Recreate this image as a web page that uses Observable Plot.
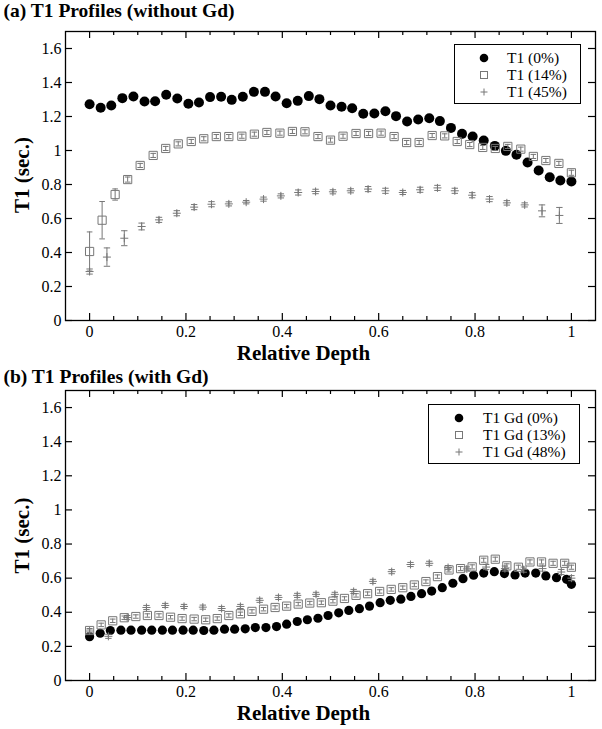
<!DOCTYPE html>
<html><head><meta charset="utf-8">
<script src="https://cdn.jsdelivr.net/npm/d3@7"></script>
<script src="https://cdn.jsdelivr.net/npm/@observablehq/plot@0.6"></script>
<style>
body{margin:0;background:#fff;}
#root{position:relative;width:602px;height:729px;font-family:"Liberation Serif","Times New Roman",serif;overflow:hidden;}
#root svg, #root svg text{font-family:"Liberation Serif","Times New Roman",serif !important;}
.panel{position:absolute;left:0;}
.legend{position:absolute;border:1.3px solid #000;background:#fff;box-sizing:border-box;}
.legend .row{position:absolute;left:0;height:14px;font-size:15.5px;line-height:14px;white-space:nowrap;color:#000;}
.legend svg{position:absolute;}
</style></head>
<body><div id="root"></div>
<script>
// ---------- Panel (a): without Gd ----------
const depthA0 = [0,0.023,0.045,0.068,0.091,0.114,0.136,0.159,0.182,0.205,0.227,0.25,0.273,0.295,0.318,0.341,0.364,0.386,0.409,0.432,0.455,0.477,0.5,0.523,0.545,0.568,0.591,0.614,0.636,0.659,0.682,0.705,0.727,0.75,0.773,0.795,0.818,0.841,0.864,0.886,0.909,0.932,0.955,0.977,1];
const t1A0 = [1.272,1.251,1.265,1.308,1.318,1.288,1.29,1.328,1.306,1.275,1.282,1.314,1.316,1.298,1.316,1.345,1.345,1.318,1.278,1.292,1.32,1.302,1.265,1.257,1.249,1.216,1.218,1.231,1.202,1.171,1.182,1.19,1.173,1.133,1.098,1.082,1.059,1.027,0.998,0.975,0.929,0.882,0.843,0.824,0.818];

const depthA14 = [0,0.026,0.053,0.079,0.105,0.132,0.158,0.184,0.211,0.237,0.263,0.289,0.316,0.342,0.368,0.395,0.421,0.447,0.474,0.5,0.526,0.553,0.579,0.605,0.632,0.658,0.684,0.711,0.737,0.763,0.789,0.816,0.842,0.868,0.895,0.921,0.947,0.974,1];
const t1A14 = [0.406,0.59,0.741,0.829,0.912,0.971,1.012,1.039,1.053,1.069,1.082,1.082,1.084,1.096,1.106,1.102,1.112,1.11,1.082,1.061,1.084,1.1,1.1,1.102,1.082,1.047,1.047,1.088,1.086,1.053,1.035,1.018,1.012,1.024,1.008,0.965,0.941,0.924,0.869];
const errA14 = [0.115,0.11,0.033,0.015,0.012,0.012,0.012,0.012,0.012,0.012,0.012,0.012,0.012,0.012,0.012,0.012,0.012,0.012,0.012,0.012,0.012,0.012,0.012,0.012,0.012,0.012,0.012,0.012,0.012,0.012,0.012,0.012,0.012,0.012,0.012,0.012,0.012,0.012,0.015];

const depthA45 = [0,0.036,0.072,0.108,0.144,0.181,0.217,0.253,0.289,0.325,0.361,0.397,0.433,0.469,0.505,0.542,0.578,0.614,0.65,0.686,0.722,0.758,0.794,0.83,0.866,0.903,0.939,0.975];
const t1A45 = [0.288,0.373,0.484,0.553,0.592,0.631,0.667,0.684,0.686,0.696,0.714,0.733,0.753,0.759,0.757,0.763,0.773,0.763,0.753,0.769,0.78,0.763,0.737,0.714,0.692,0.68,0.645,0.618];
const errA45 = [0.015,0.054,0.044,0.02,0.015,0.015,0.015,0.015,0.012,0.01,0.012,0.012,0.015,0.013,0.012,0.012,0.015,0.015,0.012,0.015,0.015,0.015,0.015,0.015,0.013,0.012,0.035,0.047];

// ---------- Panel (b): with Gd ----------
const depthB0 = [0,0.022,0.043,0.065,0.086,0.108,0.129,0.151,0.172,0.194,0.215,0.237,0.258,0.28,0.301,0.323,0.344,0.366,0.388,0.409,0.431,0.452,0.474,0.495,0.517,0.538,0.56,0.581,0.603,0.624,0.646,0.667,0.689,0.71,0.732,0.754,0.775,0.797,0.818,0.84,0.861,0.883,0.904,0.926,0.947,0.969,0.99,1];
const t1B0 = [0.257,0.277,0.293,0.295,0.295,0.295,0.295,0.295,0.295,0.295,0.295,0.293,0.295,0.301,0.301,0.303,0.31,0.31,0.316,0.33,0.346,0.356,0.365,0.381,0.397,0.411,0.421,0.436,0.456,0.47,0.477,0.493,0.509,0.524,0.544,0.57,0.597,0.617,0.63,0.638,0.627,0.619,0.63,0.63,0.613,0.603,0.593,0.564];

const depthB13 = [0,0.024,0.048,0.072,0.096,0.12,0.144,0.168,0.192,0.217,0.241,0.265,0.289,0.313,0.337,0.361,0.385,0.409,0.433,0.457,0.481,0.505,0.529,0.553,0.577,0.602,0.626,0.65,0.674,0.698,0.722,0.746,0.77,0.794,0.818,0.842,0.866,0.89,0.914,0.938,0.962,0.986,1];
const t1B13 = [0.293,0.326,0.35,0.368,0.375,0.381,0.381,0.371,0.363,0.36,0.356,0.363,0.381,0.391,0.405,0.418,0.428,0.436,0.448,0.454,0.456,0.465,0.481,0.499,0.509,0.522,0.534,0.544,0.56,0.58,0.609,0.648,0.656,0.666,0.705,0.711,0.672,0.664,0.695,0.695,0.687,0.687,0.664];
const errB13 = [0.012,0.01,0.01,0.01,0.01,0.01,0.01,0.01,0.01,0.01,0.01,0.01,0.01,0.01,0.01,0.01,0.01,0.01,0.01,0.01,0.01,0.01,0.01,0.01,0.01,0.01,0.01,0.01,0.01,0.01,0.01,0.012,0.012,0.012,0.012,0.012,0.012,0.012,0.012,0.012,0.012,0.012,0.012];

const depthB48 = [0,0.039,0.078,0.118,0.157,0.196,0.235,0.274,0.313,0.353,0.392,0.431,0.47,0.509,0.548,0.588,0.627,0.666,0.705,0.744,0.783,0.823,0.862,0.901,0.94,0.979,1];
const t1B48 = [0.29,0.259,0.369,0.428,0.44,0.434,0.43,0.422,0.434,0.47,0.487,0.499,0.505,0.505,0.522,0.581,0.638,0.68,0.687,0.662,0.654,0.665,0.656,0.65,0.656,0.636,0.6];
const errB48 = [0.012,0.012,0.012,0.012,0.012,0.012,0.012,0.012,0.012,0.012,0.012,0.012,0.012,0.012,0.012,0.012,0.012,0.012,0.012,0.012,0.012,0.015,0.015,0.015,0.015,0.015,0.015];

// ---------- Axis ticks & labels ----------
const xMajor = [0,0.2,0.4,0.6,0.8,1];
const xMinor = [0.05,0.1,0.15,0.25,0.3,0.35,0.45,0.5,0.55,0.65,0.7,0.75,0.85,0.9,0.95];
const yMajor = [0,0.2,0.4,0.6,0.8,1,1.2,1.4,1.6];
const titleA = "(a) T1 Profiles (without Gd)";
const titleB = "(b) T1 Profiles (with Gd)";
const xLabel = "Relative Depth";
const yLabel = "T1 (sec.)";
const legendA = ["T1 (0%)","T1 (14%)","T1 (45%)"];
const legendB = ["T1 Gd (0%)","T1 Gd (13%)","T1 Gd (48%)"];

const FONT = '"Liberation Serif","Times New Roman",serif';
const GREY = "#777";

const hbar = {draw(ctx, size){const w=Math.sqrt(size/Math.PI); ctx.moveTo(-w,0); ctx.lineTo(w,0);}};
const squareSym = {draw(ctx, size){const w=Math.sqrt(size/Math.PI); ctx.rect(-w,-w,2*w,2*w);}};
const plusSym = {draw(ctx, size){const w=Math.sqrt(size/Math.PI); ctx.moveTo(-w,0); ctx.lineTo(w,0); ctx.moveTo(0,-w); ctx.lineTo(0,w);}};

function rows(xs, ys, es){ return xs.map((x,i)=>({x, y: ys[i], e: es ? es[i] : 0})); }

function panel({d0, d1, d2, height, marginTop, marginBottom, title, titleDy, xlabDy, ylabDy, r}){
  const W = 602, ml = 65, mr = 7;
  const ph = height - marginTop - marginBottom;
  const pw = W - ml - mr;
  const errMarks = (data, cap) => [
    Plot.ruleX(data, {x: "x", y1: d => d.y - d.e, y2: d => d.y + d.e, stroke: GREY, strokeWidth: 1}),
    Plot.dot(data, {x: "x", y: d => d.y - d.e, symbol: hbar, r: cap, stroke: GREY, fill: "none", strokeWidth: 1}),
    Plot.dot(data, {x: "x", y: d => d.y + d.e, symbol: hbar, r: cap, stroke: GREY, fill: "none", strokeWidth: 1})
  ];
  return Plot.plot({
    width: W, height, marginLeft: ml, marginRight: mr, marginTop, marginBottom,
    style: {fontFamily: FONT, fontSize: "16px", color: "#000", background: "#fff", overflow: "visible"},
    x: {domain: [-0.05, 1.05]},
    y: {domain: [0, 1.7]},
    marks: [
      Plot.tickX(xMajor, {x: d => d, insetTop: ph - 7, stroke: "#000", strokeWidth: 1.2}),
      Plot.tickX(xMajor, {x: d => d, insetBottom: ph - 7, stroke: "#000", strokeWidth: 1.2}),
      Plot.tickX(xMinor, {x: d => d, insetTop: ph - 4, stroke: "#000", strokeWidth: 1.2}),
      Plot.tickX(xMinor, {x: d => d, insetBottom: ph - 4, stroke: "#000", strokeWidth: 1.2}),
      Plot.tickY(yMajor, {y: d => d, insetRight: pw - 7, stroke: "#000", strokeWidth: 1.2}),
      Plot.tickY(yMajor, {y: d => d, insetLeft: pw - 7, stroke: "#000", strokeWidth: 1.2}),
      Plot.axisX({ticks: xMajor, tickSize: 0, tickPadding: 5, tickFormat: d => String(d), label: null, fontSize: 16}),
      Plot.axisY({ticks: yMajor, tickSize: 0, tickPadding: 4, tickFormat: d => String(d), label: null, fontSize: 16}),
      Plot.dot(d0, {x: "x", y: "y", r, fill: "#000", stroke: "none"}),
      ...errMarks(d1, 2.8),
      Plot.dot(d1, {x: "x", y: "y", symbol: squareSym, r: 4.1, stroke: GREY, fill: "none", strokeWidth: 1}),
      ...errMarks(d2, 3.2),
      Plot.dot(d2, {x: "x", y: "y", symbol: plusSym, r: 4, stroke: GREY, fill: "none", strokeWidth: 1}),
      Plot.frame({stroke: "#000", strokeWidth: 1.3}),
      Plot.text([title], {text: d => d, frameAnchor: "top-left", dx: -62, dy: titleDy, textAnchor: "start", lineAnchor: "bottom", fontSize: 19.5, fontWeight: "bold"}),
      Plot.text([xLabel], {text: d => d, frameAnchor: "bottom", dx: -27, dy: xlabDy, lineAnchor: "bottom", fontSize: 21, fontWeight: "bold"}),
      Plot.text([yLabel], {text: d => d, frameAnchor: "left", dx: -43, dy: ylabDy, rotate: -90, lineAnchor: "middle", textAnchor: "middle", fontSize: 21, fontWeight: "bold"})
    ]
  });
}

const root = document.getElementById("root");

const pa = panel({
  d0: rows(depthA0, t1A0), d1: rows(depthA14, t1A14, errA14), d2: rows(depthA45, t1A45, errA45),
  height: 365, marginTop: 31, marginBottom: 45, title: titleA, titleDy: -15, xlabDy: 39, ylabDy: -1, r: 5
});
pa.classList.add("panel"); pa.style.top = "0px";
root.appendChild(pa);

const pb = panel({
  d0: rows(depthB0, t1B0), d1: rows(depthB13, t1B13, errB13), d2: rows(depthB48, t1B48, errB48),
  height: 364, marginTop: 25, marginBottom: 49, title: titleB, titleDy: -8, xlabDy: 39.5, ylabDy: 0, r: 4.6
});
pb.classList.add("panel"); pb.style.top = "365px";
root.appendChild(pb);

function legend(labels, box, symX, textX, rowYs){
  const div = document.createElement("div");
  div.className = "legend";
  Object.assign(div.style, {left: box[0]+"px", top: box[1]+"px", width: box[2]+"px", height: box[3]+"px"});
  const syms = [
    '<circle cx="6" cy="6" r="4.3" fill="#000"/>',
    '<rect x="2.5" y="2.5" width="7" height="7" fill="none" stroke="'+GREY+'" stroke-width="1"/>',
    '<path d="M2.5,6H9.5M6,2.5V9.5" stroke="'+GREY+'" stroke-width="1" fill="none"/>'
  ];
  labels.forEach((lab, i) => {
    const s = document.createElementNS("http://www.w3.org/2000/svg","svg");
    s.setAttribute("width","12"); s.setAttribute("height","12");
    s.style.left = (symX - 6) + "px"; s.style.top = (rowYs[i] - 6) + "px";
    s.innerHTML = syms[i];
    div.appendChild(s);
    const t = document.createElement("div");
    t.className = "row";
    t.textContent = lab;
    t.style.left = textX + "px"; t.style.top = (rowYs[i] - 7) + "px";
    div.appendChild(t);
  });
  root.appendChild(div);
}
legend(legendA, [454, 44, 127, 60], 29, 52, [12.6, 29.8, 47]);
legend(legendB, [428, 404, 152, 60], 30, 54, [12.6, 29.8, 47]);
</script>
</body></html>
